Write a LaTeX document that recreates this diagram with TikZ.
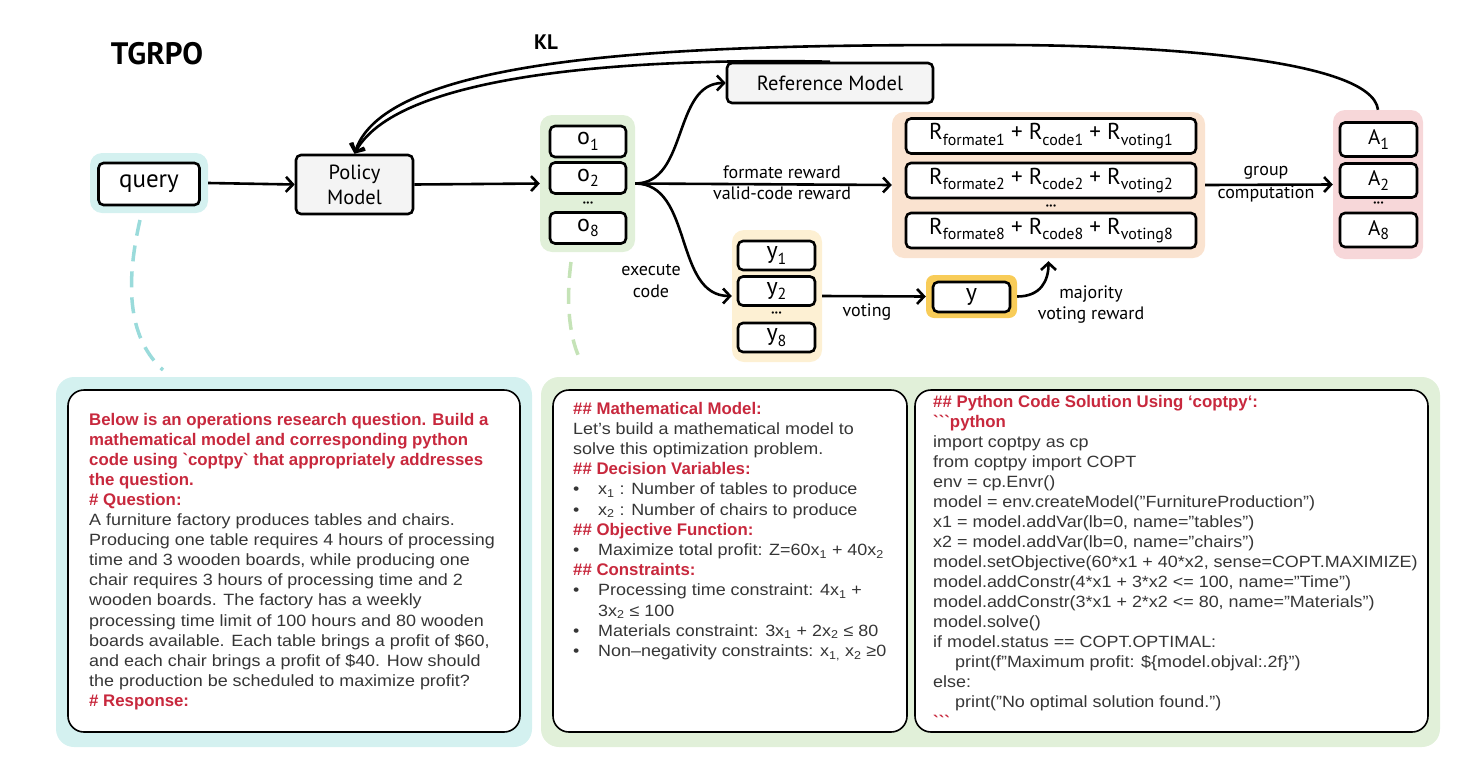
\documentclass[tikz,border=0pt]{standalone}
\usepackage{fontspec}
\setmainfont{Liberation Sans}
\newfontfamily\hand{PT Sans}
\newfontfamily\bodyff[FakeStretch=1.1]{Liberation Sans}
\usetikzlibrary{arrows.meta,calc}
\definecolor{qred}{HTML}{C8283D}
\definecolor{bodygray}{HTML}{363636}
\definecolor{cybg}{HTML}{D4F1F0}
\definecolor{grbg}{HTML}{E1F0D9}
\definecolor{pcbg}{HTML}{FAE3D0}
\definecolor{pkbg}{HTML}{F7D7D9}
\definecolor{ylbg}{HTML}{FDF0D3}
\definecolor{gdbg}{HTML}{F8CC58}
\definecolor{lgray}{HTML}{F4F4F4}
\definecolor{cydash}{HTML}{9ADBDB}
\definecolor{grdash}{HTML}{C5E3B7}
\newcommand{\sbs}[1]{\raisebox{-0.45ex}{\fontsize{16}{16}\selectfont #1}}
\newcommand{\hd}{\normalfont\color{qred}\fontsize{16.8}{20}\selectfont\bfseries}
\newcommand{\bd}{\bodyff\fontsize{16.3}{20}\selectfont}
\newcommand{\bul}{\makebox[25pt][l]{•}}
\begin{document}
\begin{tikzpicture}[x=1pt,y=-1pt,
 box/.style={draw, line width=2.6pt, rounded corners=5pt, fill=white, inner sep=0pt, font=\hand\fontsize{24}{24}\selectfont},
 grp/.style={rounded corners=12pt, inner sep=0pt, draw=none},
 arr/.style={line width=2.6pt, -{Straight Barb[length=7pt,width=15pt]}},
 lbl/.style={font=\hand\fontsize{18}{18}\selectfont, inner sep=0pt},
 dotsn/.style={font=\hand\fontsize{8}{8}\selectfont, inner sep=0pt},
 panel/.style={draw, line width=1.6pt, rounded corners=16pt, fill=white},
 tl/.style={anchor=base west, inner sep=0pt, text=bodygray, font=\bd},
 dsh/.style={line width=3.5pt, dash pattern=on 16pt off 10pt},
 rrow/.style={box, minimum width=290pt, minimum height=35pt, font=\hand\fontsize{23}{23}\selectfont},
]
\useasboundingbox (0,0) rectangle (1481,769);

% ---------- bottom panels ----------
\fill[cybg, rounded corners=18pt] (56,377) rectangle (532,747);
\draw[panel] (68,390) rectangle (520,732);
\fill[grbg, rounded corners=18pt] (541,377) rectangle (1440,747);
\draw[panel] (553,390) rectangle (907,732);
\draw[panel] (915,390) rectangle (1428,732);

\foreach \t [count=\i from 0] in {
 {\hd Below is an operations research question. Build a},
 {\hd mathematical model and corresponding python},
 {\hd code using \textasciigrave coptpy\textasciigrave\ that appropriately addresses},
 {\hd the question.},
 {\hd \# Question:},
 {A furniture factory produces tables and chairs.},
 {Producing one table requires 4 hours of processing},
 {time and 3 wooden boards, while producing one},
 {chair requires 3 hours of processing time and 2},
 {wooden boards. The factory has a weekly},
 {processing time limit of 100 hours and 80 wooden},
 {boards available. Each table brings a profit of \$60,},
 {and each chair brings a profit of \$40. How should},
 {the production be scheduled to maximize profit?},
 {\hd \# Response:}}
 \node[tl] (q\i) at (89,{425+20.1*\i}) {\t};

\foreach \t [count=\i from 0] in {
 {\hd \#\# Mathematical Model:},
 {Let’s build a mathematical model to},
 {solve this optimization problem.},
 {\hd \#\# Decision Variables:},
 {\bul x\textsubscript{1} : Number of tables to produce},
 {\bul x\textsubscript{2} : Number of chairs to produce},
 {\hd \#\# Objective Function:},
 {\bul Maximize total profit: Z=60x\textsubscript{1} + 40x\textsubscript{2}},
 {\hd \#\# Constraints:},
 {\bul Processing time constraint: 4x\textsubscript{1} +},
 {\hspace*{25pt}3x\textsubscript{2} ≤ 100},
 {\bul Materials constraint: 3x\textsubscript{1} + 2x\textsubscript{2} ≤ 80},
 {\bul Non–negativity constraints: x\textsubscript{1,} x\textsubscript{2} ≥0}}
 \node[tl] (m\i) at (573,{414+20.2*\i}) {\t};

\foreach \t [count=\i from 0] in {
 {\hd \#\# Python Code Solution Using ‘coptpy‘:},
 {\hd \textasciigrave\textasciigrave\textasciigrave python},
 {import coptpy as cp},
 {from coptpy import COPT},
 {env = cp.Envr()},
 {model = env.createModel(”FurnitureProduction”)},
 {x1 = model.addVar(lb=0, name=”tables”)},
 {x2 = model.addVar(lb=0, name=”chairs”)},
 {model.setObjective(60*x1 + 40*x2, sense=COPT.MAXIMIZE)},
 {model.addConstr(4*x1 + 3*x2 <= 100, name=”Time”)},
 {model.addConstr(3*x1 + 2*x2 <= 80, name=”Materials”)},
 {model.solve()},
 {if model.status == COPT.OPTIMAL:},
 {\hspace*{22pt}print(f”Maximum profit: \$\{model.objval:.2f\}”)},
 {else:},
 {\hspace*{22pt}print(”No optimal solution found.”)},
 {\hd \textasciigrave\textasciigrave\textasciigrave}}
 \node[tl] (c\i) at (933,{407+20*\i}) {\t};

% ---------- top diagram ----------
\node[font=\hand\bfseries\fontsize{31}{31}\selectfont, inner sep=0pt] (title) at (157,54) {TGRPO};
\node[font=\hand\bfseries\fontsize{21}{21}\selectfont, inner sep=0pt] (kl) at (546,42) {KL};

\node[grp, fill=cybg, minimum width=118pt, minimum height=60pt] (qbg) at (149,183) {};
\node[box, minimum width=101pt, minimum height=42pt, font=\hand\fontsize{25}{25}\selectfont] (query) at (149,184) {query};

\node[box, fill=lgray, minimum width=117pt, minimum height=59pt, align=center, font=\hand\fontsize{20.5}{25}\selectfont] (policy) at (354.5,184.5) {Policy\\Model};

\node[grp, fill=grbg, minimum width=95pt, minimum height=137pt] (ogrp) at (587.5,183.5) {};
\node[box, minimum width=76pt, minimum height=31pt] (o1) at (588,141.5) {o\sbs{1}};
\node[box, minimum width=76pt, minimum height=31pt] (o2) at (588,178) {o\sbs{2}};
\node[dotsn] (od) at (588,204) {•••};
\node[box, minimum width=76pt, minimum height=31pt] (o8) at (588,228) {o\sbs{8}};

\node[box, fill=lgray, minimum width=206pt, minimum height=40pt, font=\hand\fontsize{20.5}{20.5}\selectfont] (ref) at (830,83) {Reference Model};

\node[grp, fill=pcbg, minimum width=313pt, minimum height=146pt] (rgrp) at (1048.5,185) {};
\node[rrow] (r1) at (1051,136) {R\sbs{formate1} + R\sbs{code1} + R\sbs{voting1}};
\node[rrow] (r2) at (1051,180.5) {R\sbs{formate2} + R\sbs{code2} + R\sbs{voting2}};
\node[dotsn] (rd) at (1051,207) {•••};
\node[rrow] (r8) at (1051,230.5) {R\sbs{formate8} + R\sbs{code8} + R\sbs{voting8}};

\node[grp, fill=pkbg, minimum width=90pt, minimum height=149pt] (agrp) at (1378,184.5) {};
\node[box, minimum width=77pt, minimum height=34pt, font=\hand\fontsize{21}{21}\selectfont] (a1) at (1378.5,139.5) {A\sbs{1}};
\node[box, minimum width=77pt, minimum height=34pt, font=\hand\fontsize{21}{21}\selectfont] (a2) at (1378.5,180.5) {A\sbs{2}};
\node[dotsn] (ad) at (1378.5,204) {•••};
\node[box, minimum width=77pt, minimum height=34pt, font=\hand\fontsize{21}{21}\selectfont] (a8) at (1378.5,230) {A\sbs{8}};

\node[grp, fill=ylbg, minimum width=90pt, minimum height=132pt] (ygrp) at (777,296) {};
\node[box, minimum width=77pt, minimum height=29pt] (y1) at (776.5,255.5) {y\sbs{1}};
\node[box, minimum width=77pt, minimum height=29pt] (y2) at (776.5,291) {y\sbs{2}};
\node[dotsn] (yd) at (776.5,314) {•••};
\node[box, minimum width=77pt, minimum height=29pt] (y8) at (776.5,337.5) {y\sbs{8}};

\node[grp, fill=gdbg, minimum width=91pt, minimum height=43pt, rounded corners=8pt] (ygbg) at (971.5,296.5) {};
\node[box, minimum width=77pt, minimum height=30pt] (yv) at (971.5,297) {y};

% labels
\node[lbl] (lfr) at (782,172) {formate reward};
\node[lbl] (lvc) at (782,193) {valid-code reward};
\node[lbl] (lex) at (651,270) {execute};
\node[lbl] (lcd) at (651,291) {code};
\node[lbl] (lvt) at (867,312) {voting};
\node[lbl] (lmj) at (1091,294) {majority};
\node[lbl] (lvr) at (1091,315) {voting reward};
\node[lbl] (lgp) at (1266,173) {group};
\node[lbl] (lcp) at (1266,194) {computation};

% connectors
\draw[arr] (qbg.east) -- (policy.west);
\draw[arr] (policy.east) -- (ogrp.west);
\draw[arr] (ogrp.east) to[out=0,in=180] (ref.west);
\draw[arr] (ogrp.east) -- (rgrp.west);
\draw[arr] (ogrp.east) to[out=0,in=180] (ygrp.west);
\draw[arr] (rgrp.east) -- (agrp.west);
\draw[arr] (ygrp.east) -- (ygbg.west);
\draw[arr, shorten >=3pt] (ygbg.east) .. controls ($(ygbg.east)+(24,0)$) and ($(rgrp.south)+(0,22)$) .. (rgrp.south);

\coordinate (klpeak) at (1000,45);
\draw[arr] (agrp.north) .. controls (1372,58) and (1150,45) .. (klpeak) .. controls (750,45) and (390,45) .. (policy.north);
\draw[arr] (ref.north) .. controls (650,58) and (400,70) .. (policy.north);

% dashed links
\coordinate (cys) at (140,220);
\coordinate (cye) at (163,370);
\draw[cydash, dsh] (cys) .. controls (124,290) and (130,340) .. (cye);
\coordinate (grs) at (571,262);
\coordinate (gre) at (579,357);
\draw[grdash, dsh] (grs) .. controls (566,300) and (569,335) .. (gre);
\end{tikzpicture}
\end{document}
